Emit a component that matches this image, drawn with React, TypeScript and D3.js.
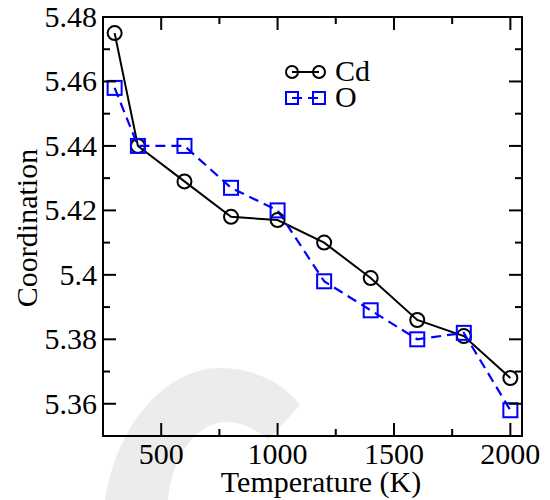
import React from "react";
import * as d3 from "d3";

// temperatures (K) and average coordination numbers
const temps = [300, 400, 600, 800, 1000, 1200, 1400, 1600, 1800, 2000];
const cdCoord = [5.475, 5.44, 5.429, 5.418, 5.417, 5.41, 5.399, 5.386, 5.381, 5.368];
const oCoord = [5.458, 5.44, 5.44, 5.427, 5.42, 5.398, 5.389, 5.38, 5.382, 5.358];

const xTicks = [500, 1000, 1500, 2000];
const xMinor = [750, 1250, 1750];
const yTicks = [5.36, 5.38, 5.4, 5.42, 5.44, 5.46, 5.48];
const yMinor = [5.37, 5.39, 5.41, 5.43, 5.45, 5.47];
const yLabels = ["5.36", "5.38", "5.4", "5.42", "5.44", "5.46", "5.48"];

const W = 550;
const H = 500;
const margin = { top: 17, right: 28, bottom: 64, left: 103 };
const font = "Liberation Serif";
const fs = 30;

const App = () => {
  const x = d3.scaleLinear().domain([250, 2050]).range([margin.left, W - margin.right]);
  const y = d3.scaleLinear().domain([5.35, 5.48]).range([H - margin.bottom, margin.top]);
  const [x0, x1] = x.range();
  const [y0, y1] = y.range();

  const line = d3
    .line<number>()
    .x((_, i) => x(temps[i]))
    .y((d) => y(d));

  const major = 13;
  const minor = 7;

  return (
    <svg
      width={W}
      height={H}
      style={{ position: "absolute", left: 0, top: 0, background: "#fff", fontFamily: font }}
    >
      {/* faint watermark */}
      <path
        d="M105,500 C118,420 168,368 220,368 C256,368 284,384 300,405 L268,440 C255,428 241,422 226,422 C196,422 172,458 168,500 Z"
        fill="#ececec"
      />

      {/* series */}
      <path d={line(cdCoord) || ""} fill="none" stroke="#000" strokeWidth={2} />
      <path
        d={line(oCoord) || ""}
        fill="none"
        stroke="#0000ff"
        strokeWidth={2.2}
        strokeDasharray="10,6"
      />
      {cdCoord.map((v, i) => (
        <circle key={"c" + i} cx={x(temps[i])} cy={y(v)} r={7} fill="none" stroke="#000" strokeWidth={2} />
      ))}
      {oCoord.map((v, i) => (
        <rect
          key={"s" + i}
          x={x(temps[i]) - 7}
          y={y(v) - 7}
          width={14}
          height={14}
          fill="none"
          stroke="#0000ff"
          strokeWidth={2}
        />
      ))}

      {/* frame */}
      <rect x={x0} y={y1} width={x1 - x0} height={y0 - y1} fill="none" stroke="#000" strokeWidth={2} />

      {/* x ticks bottom and top */}
      {xTicks.map((t) => (
        <g key={"xt" + t}>
          <line x1={x(t)} x2={x(t)} y1={y0} y2={y0 - major} stroke="#000" strokeWidth={2} />
          <line x1={x(t)} x2={x(t)} y1={y1} y2={y1 + major} stroke="#000" strokeWidth={2} />
          <text x={x(t)} y={y0 + 28} textAnchor="middle" fontSize={fs}>
            {t}
          </text>
        </g>
      ))}
      {xMinor.map((t) => (
        <g key={"xm" + t}>
          <line x1={x(t)} x2={x(t)} y1={y0} y2={y0 - minor} stroke="#000" strokeWidth={2} />
          <line x1={x(t)} x2={x(t)} y1={y1} y2={y1 + minor} stroke="#000" strokeWidth={2} />
        </g>
      ))}

      {/* y ticks left and right */}
      {yTicks.map((t, i) => (
        <g key={"yt" + t}>
          <line x1={x0} x2={x0 + major} y1={y(t)} y2={y(t)} stroke="#000" strokeWidth={2} />
          <line x1={x1} x2={x1 - major} y1={y(t)} y2={y(t)} stroke="#000" strokeWidth={2} />
          <text x={x0 - 6} y={y(t) + 10} textAnchor="end" fontSize={fs}>
            {yLabels[i]}
          </text>
        </g>
      ))}
      {yMinor.map((t) => (
        <g key={"ym" + t}>
          <line x1={x0} x2={x0 + minor} y1={y(t)} y2={y(t)} stroke="#000" strokeWidth={2} />
          <line x1={x1} x2={x1 - minor} y1={y(t)} y2={y(t)} stroke="#000" strokeWidth={2} />
        </g>
      ))}

      {/* axis titles */}
      <text x={321} y={492} textAnchor="middle" fontSize={fs}>
        Temperature (K)
      </text>
      <text transform="translate(37,228) rotate(-90)" textAnchor="middle" fontSize={fs}>
        Coordination
      </text>

      {/* legend */}
      <g>
        <line x1={292} x2={319} y1={72} y2={72} stroke="#000" strokeWidth={2} />
        <circle cx={292} cy={72} r={6} fill="none" stroke="#000" strokeWidth={2} />
        <circle cx={319} cy={72} r={6} fill="none" stroke="#000" strokeWidth={2} />
        <text x={335} y={81} fontSize={fs}>
          Cd
        </text>
        <line x1={292} x2={319} y1={98} y2={98} stroke="#0000ff" strokeWidth={2} strokeDasharray="10,6" />
        <rect x={286} y={92} width={12} height={12} fill="none" stroke="#0000ff" strokeWidth={2} />
        <rect x={313} y={92} width={12} height={12} fill="none" stroke="#0000ff" strokeWidth={2} />
        <text x={335} y={107} fontSize={fs}>
          O
        </text>
      </g>
    </svg>
  );
};

export default App;
